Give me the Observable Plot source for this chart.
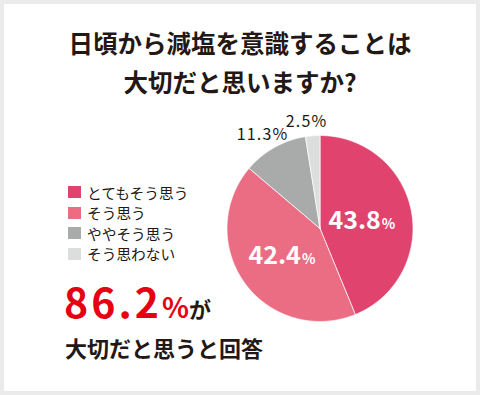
<!DOCTYPE html>
<html><head><meta charset="utf-8">
<script src="https://cdn.jsdelivr.net/npm/d3@7"></script>
<script src="https://cdn.jsdelivr.net/npm/@observablehq/plot@0.6"></script>
<style>
body{margin:0;}
#frame{position:relative;width:480px;height:395px;background:#ebebeb;overflow:hidden;font-family:"Noto Sans CJK JP","Noto Sans",sans-serif;color:#231815;}
#panel{position:absolute;left:4px;top:4px;width:472px;height:387px;background:#fff;}
#title{position:absolute;left:0;top:24px;width:480px;text-align:center;font-size:24.5px;font-weight:bold;line-height:38.5px;margin:0;}
#legend{position:absolute;left:68px;top:182px;font-size:14.7px;}
.row{display:flex;align-items:center;height:20.5px;}
.sw{width:13px;height:12px;margin-right:6px;flex:none;}
#big{position:absolute;left:64px;top:280px;white-space:nowrap;line-height:1;}
#big .num{font-size:41px;font-weight:bold;color:#e60012;letter-spacing:3px;}
#big .pct{font-size:28px;font-weight:bold;color:#e60012;}
#big .ga{font-size:22px;font-weight:bold;}
#sub{position:absolute;left:65px;top:336px;font-size:22px;font-weight:bold;line-height:1;white-space:nowrap;}
#chart{position:absolute;left:0;top:0;}
#chart svg{background:transparent;}
#chart svg > g:last-of-type text{letter-spacing:1.2px;}
</style>
</head><body>
<div id="frame">
  <div id="panel"></div>
  <div id="title"></div>
  <div id="legend"></div>
  <div id="big"></div>
  <div id="sub"></div>
  <div id="chart"></div>
</div>
<script>
const titleLines = ["日頃から減塩を意識することは", "大切だと思いますか?"];
const answers = ["とてもそう思う", "そう思う", "ややそう思う", "そう思わない"];
const percents = [43.8, 42.4, 11.3, 2.5];
const colors = ["#e0446e", "#eb6d83", "#a9aaaa", "#dcdddd"];
const insideSlices = ["とてもそう思う", "そう思う"];
const summaryText = "が";
const summaryLine = "大切だと思うと回答";

document.getElementById("title").innerHTML = titleLines.join("<br>");
document.getElementById("legend").innerHTML = answers.map((a, i) =>
  `<div class="row"><span class="sw" style="background:${colors[i]}"></span><span>${a}</span></div>`).join("");
const total = (percents[0] + percents[1]).toFixed(1);
document.getElementById("big").innerHTML =
  `<span class="num">${total}</span><span class="pct">%</span><span class="ga">${summaryText}</span>`;
document.getElementById("sub").textContent = summaryLine;

const rows = answers.map((a, i) => ({answer: a, value: percents[i]}));
const arcs = d3.pie().sort(null).value(d => d.value)(rows);

const polys = [];
for (const a of arcs) {
  const n = Math.max(2, Math.ceil((a.endAngle - a.startAngle) / (Math.PI / 360)));
  polys.push({answer: a.data.answer, x: 0, y: 0});
  for (let k = 0; k <= n; k++) {
    const t = a.startAngle + (a.endAngle - a.startAngle) * k / n;
    polys.push({answer: a.data.answer, x: Math.sin(t), y: Math.cos(t)});
  }
  polys.push({answer: a.data.answer, x: 0, y: 0});
}
const labels = arcs.map(a => {
  const mid = (a.startAngle + a.endAngle) / 2;
  const inside = insideSlices.includes(a.data.answer);
  const r = inside ? 0.48 : 1.15;
  return {answer: a.data.answer, value: a.data.value, inside, x: Math.sin(mid) * r, y: Math.cos(mid) * r};
});
const inner = labels.filter(d => d.inside);
const outer = labels.filter(d => !d.inside);

const cx = 319.5, cy = 228, R = 93;
const plot = Plot.plot({
  width: 480, height: 395, margin: 0,
  x: {domain: [-1, 1], range: [cx - R, cx + R], axis: null},
  y: {domain: [-1, 1], range: [cy + R, cy - R], axis: null},
  color: {domain: answers, range: colors},
  style: {background: "transparent", fontFamily: "'Noto Sans CJK JP', sans-serif"},
  marks: [
    Plot.line(polys, {x: "x", y: "y", z: "answer", fill: "answer", stroke: "white", strokeWidth: 0.7, curve: "linear"}),
    Plot.text(inner, {x: "x", y: "y", text: d => d.value.toFixed(1), fill: "white", fontSize: 25, fontWeight: "bold", textAnchor: "end", lineAnchor: "bottom", dx: 17, dy: 9}),
    Plot.text(inner, {x: "x", y: "y", text: () => "%", fill: "white", fontSize: 14, fontWeight: "bold", textAnchor: "start", lineAnchor: "bottom", dx: 18, dy: 9}),
    Plot.text(outer, {x: "x", y: "y", text: d => d.value.toFixed(1) + "%", fill: "#231815", fontSize: 16, dx: -5})
  ]
});
document.getElementById("chart").appendChild(plot);
</script>
</body></html>
